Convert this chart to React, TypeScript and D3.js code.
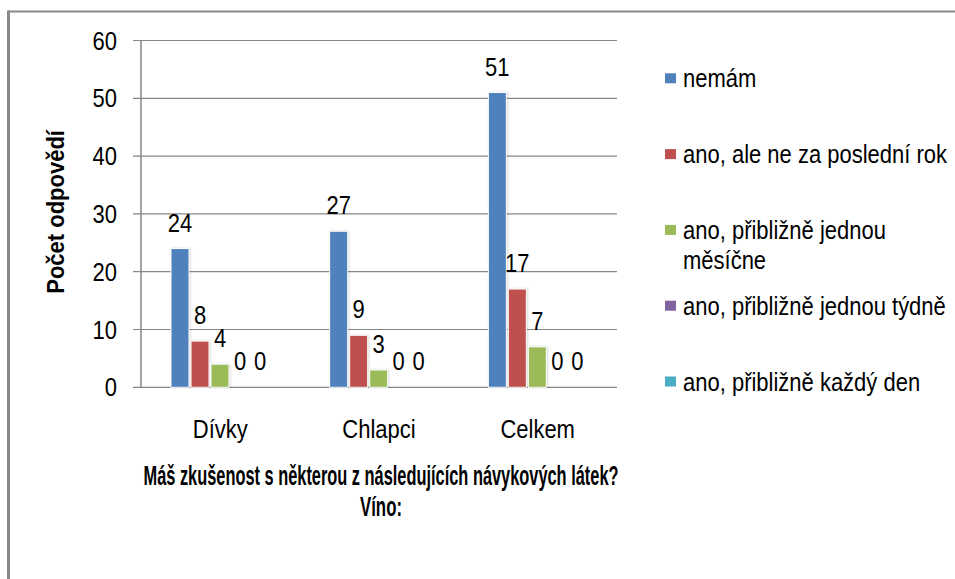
import React from "react";
import * as d3 from "d3";

const categories = ["Dívky", "Chlapci", "Celkem"];
const seriesNames = [
  "nemám",
  "ano, ale ne za poslední rok",
  "ano, přibližně jednou měsíčne",
  "ano, přibližně jednou týdně",
  "ano, přibližně každý den",
];
const nemam = [24, 27, 51];
const anoAleNe = [8, 9, 17];
const mesicne = [4, 3, 7];
const tydne = [0, 0, 0];
const kazdyDen = [0, 0, 0];
const seriesValues = [nemam, anoAleNe, mesicne, tydne, kazdyDen];
const colors = ["#4F81BD", "#C0504D", "#9BBB59", "#8064A2", "#4BACC6"];
const yTicks = [0, 10, 20, 30, 40, 50, 60];
const titleLines = ["Máš zkušenost s některou z následujících návykových látek?", "Víno:"];
const yAxisTitle = "Počet odpovědí";

const FONT = "'Liberation Sans', Arial, sans-serif";
const SY = 1.18;

function wrap(s: string, max: number): string[] {
  if (s.length <= max) return [s];
  const idx = s.lastIndexOf(" ", max);
  return [s.slice(0, idx), s.slice(idx + 1)];
}

function T(props: {
  x: number;
  y: number;
  anchor?: string;
  size?: number;
  weight?: string;
  children: React.ReactNode;
}) {
  return (
    <text
      transform={`translate(${props.x},${props.y}) scale(1,${SY})`}
      fontSize={props.size ?? 22}
      fontWeight={props.weight ?? "normal"}
      textAnchor={props.anchor ?? "start"}
      fill="#000"
    >
      {props.children}
    </text>
  );
}

export default function App() {
  const plotLeft = 141;
  const plotRight = 617;
  const plotTop = 40.5;
  const plotBottom = 387.3;

  const y = d3.scaleLinear().domain([0, 60]).range([plotBottom, plotTop]);
  const x0 = d3.scaleBand<string>().domain(categories).range([plotLeft, plotRight]).padding(0);
  const x1 = d3
    .scaleBand<string>()
    .domain(seriesNames)
    .range([29, 129])
    .padding(0);
  const barW = x1.bandwidth() - 2;

  const legendX = 665;
  const legendTop = 78.3;
  const legendStep = 75.8;

  return (
    <svg
      width={955}
      height={579}
      style={{ position: "absolute", left: 0, top: 0, background: "#fff" }}
      fontFamily={FONT}
    >
      <rect x={0} y={0} width={955} height={579} fill="#fff" />
      {/* outer border */}
      <line x1={8} x2={955} y1={11.5} y2={11.5} stroke="#888" strokeWidth={2} />
      <line x1={8.5} x2={8.5} y1={10.5} y2={579} stroke="#888" strokeWidth={3} />

      {/* gridlines */}
      {yTicks.map((t) => (
        <line
          key={"g" + t}
          x1={133}
          x2={plotRight}
          y1={y(t)}
          y2={y(t)}
          stroke="#868686"
          strokeWidth={1.2}
        />
      ))}
      <line x1={plotLeft} x2={plotLeft} y1={plotTop} y2={plotBottom} stroke="#868686" strokeWidth={1.5} />

      {/* y tick labels */}
      {yTicks.map((t) => (
        <T key={"t" + t} x={117} y={y(t) + 9} anchor="end">
          {t}
        </T>
      ))}

      {/* y axis title */}
      <text
        transform={`translate(64, ${(plotTop + plotBottom) / 2 - 2}) rotate(-90) scale(1,1.1)`}
        fontSize={22}
        fontWeight="bold"
        textAnchor="middle"
        fill="#000"
      >
        {yAxisTitle}
      </text>

      {/* bars */}
      {categories.map((c, ci) => (
        <g key={c} transform={`translate(${x0(c)},0)`}>
          {seriesNames.map((s, si) => {
            const v = seriesValues[si][ci];
            const bx = (x1(s) as number) + 1;
            const top = y(v);
            return (
              <g key={s}>
                {v > 0 && (
                  <rect
                    x={bx}
                    y={top}
                    width={barW}
                    height={plotBottom - top}
                    fill={colors[si]}
                    stroke="#fff"
                    strokeWidth={1}
                    style={{ filter: "drop-shadow(1px 0px 1px rgba(0,0,0,0.15))" }}
                  />
                )}
                <T x={bx + barW / 2} y={top - 17} anchor="middle">
                  {v}
                </T>
              </g>
            );
          })}
          <T x={x0.bandwidth() / 2} y={438} anchor="middle">
            {c}
          </T>
        </g>
      ))}

      {/* legend */}
      {seriesNames.map((s, si) => {
        const cy = legendTop + si * legendStep;
        const lines = wrap(s, 27);
        return (
          <g key={"l" + s}>
            <rect x={legendX} y={cy - 5} width={11} height={10} fill={colors[si]} />
            {lines.map((ln, li) => (
              <T key={li} x={683} y={cy + 9 + li * 30}>
                {ln}
              </T>
            ))}
          </g>
        );
      })}

      {/* title */}
      <text
        x={381}
        y={485}
        fontSize={28}
        fontWeight="bold"
        textAnchor="middle"
        textLength={475}
        lengthAdjust="spacingAndGlyphs"
        fill="#000"
      >
        {titleLines[0]}
      </text>
      <text
        x={381}
        y={516}
        fontSize={28}
        fontWeight="bold"
        textAnchor="middle"
        textLength={42}
        lengthAdjust="spacingAndGlyphs"
        fill="#000"
      >
        {titleLines[1]}
      </text>
    </svg>
  );
}
